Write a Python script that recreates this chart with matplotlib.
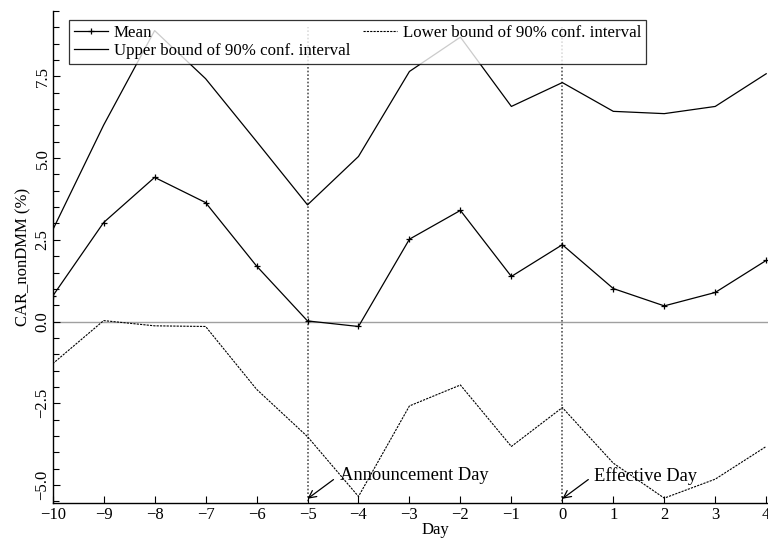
import matplotlib
matplotlib.use("Agg")
import matplotlib.pyplot as plt
from matplotlib.ticker import MultipleLocator

days = [-10, -9, -8, -7, -6, -5, -4, -3, -2, -1, 0, 1, 2, 3, 4]
mean = [0.78, 3.03, 4.41, 3.64, 1.70, 0.02, -0.15, 2.52, 3.40, 1.38, 2.35, 1.01, 0.48, 0.89, 1.87]
upper = [2.80, 6.01, 8.90, 7.43, 5.51, 3.57, 5.05, 7.65, 8.70, 6.58, 7.31, 6.43, 6.36, 6.58, 7.58]
lower = [-1.29, 0.03, -0.13, -0.15, -2.07, -3.52, -5.35, -2.58, -1.94, -3.82, -2.63, -4.33, -5.40, -4.82, -3.82]

events = [(-5, "Announcement Day"), (0, "Effective Day")]

plt.rcParams["font.family"] = ["Liberation Serif", "DejaVu Serif"]
plt.rcParams["font.size"] = 12

fig = plt.figure(figsize=(7.68, 5.38), dpi=100)
ax = fig.add_axes([0.0686, 0.065, 1.064 - 0.0686, 0.9146])

ax.axhline(0, color="#a0a0a0", lw=1.0, zorder=1)
for d, _ in events:
    ax.vlines(d, -5.6, 9.0, colors="#555555", linestyles=(0, (1, 1.2)), lw=1.2, zorder=1)

ax.plot(days, mean, color="black", lw=0.9, marker="+", ms=5, mew=0.9, label="Mean")
ax.plot(days, upper, color="black", lw=0.9, label="Upper bound of 90% conf. interval")
ax.plot(days, lower, color="black", lw=0.8, dashes=(2, 1),
        label="Lower bound of 90% conf. interval")

for d, txt in events:
    ax.annotate(txt, xy=(d, -5.42), xytext=(d + 0.63, -4.72),
                ha="left", va="center", fontsize=13.3,
                arrowprops=dict(arrowstyle="->", color="black", lw=0.9,
                                shrinkA=3, shrinkB=0, relpos=(0, 0.55)))

ax.set_xlim(-10, 5)
ax.set_ylim(-5.55, 9.5)
ax.xaxis.set_major_locator(MultipleLocator(1))
ax.yaxis.set_minor_locator(MultipleLocator(0.5))
ax.set_yticks([-5.0, -2.5, 0.0, 2.5, 5.0, 7.5])
ax.set_yticklabels(["\u22125.0", "\u22122.5", "0.0", "2.5", "5.0", "7.5"],
                   rotation=90, va="center")
ax.set_xticks(days)
ax.set_xticklabels([str(d).replace("-", "\u2212") for d in days])

ax.tick_params(which="both", direction="in", width=0.8)
ax.tick_params(which="major", length=5, pad=3)
ax.tick_params(which="minor", length=4)
ax.tick_params(axis="y", pad=1.5)
ax.spines["top"].set_visible(False)
ax.spines["right"].set_visible(False)
ax.spines["left"].set_linewidth(1.0)
ax.spines["bottom"].set_linewidth(1.0)

ax.set_xlabel("Day", labelpad=-1)
ax.set_ylabel("CAR_nonDMM (%)", labelpad=2)

leg = ax.legend(loc="upper left", bbox_to_anchor=(0.0215, 0.981), ncol=2,
                frameon=True, fancybox=False, edgecolor="black",
                prop={"size": 12.2},
                handlelength=2.0, handletextpad=0.35, columnspacing=0.75,
                labelspacing=0.1, borderpad=0.28, borderaxespad=0)
leg.get_frame().set_linewidth(0.9)

fig.savefig("out.png", dpi=100)
